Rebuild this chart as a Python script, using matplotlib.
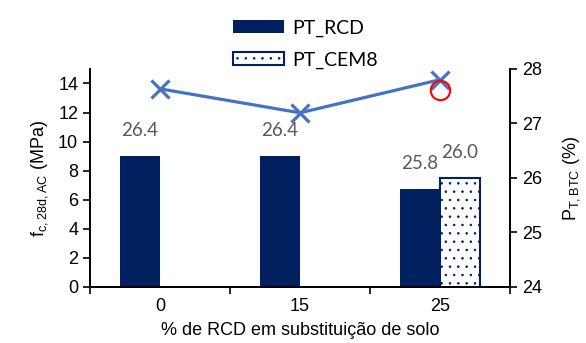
import numpy as np
import matplotlib.pyplot as plt

# data
categories = ['0', '15', '25']
fc_rcd = [13.63, 11.98, 14.26]        # compressive strength, MPa (left axis)
fc_cem8 = [np.nan, np.nan, 13.57]
pt_rcd = [26.4, 26.4, 25.8]           # P_T,BTC (%) bars (right axis)
pt_cem8 = [np.nan, np.nan, 26.0]

navy = '#002060'
line_blue = '#4472C4'

plt.rcParams['font.family'] = ['Liberation Sans', 'DejaVu Sans']
plt.rcParams['mathtext.fontset'] = 'custom'
plt.rcParams['mathtext.rm'] = 'Liberation Sans'
plt.rcParams['font.size'] = 13
plt.rcParams['hatch.linewidth'] = 0.6
plt.rcParams['hatch.color'] = navy

fig = plt.figure(figsize=(5.86, 3.43), dpi=100)
ax = fig.add_axes([0.1536, 0.164, 0.7167, 0.635])
ax2 = ax.twinx()

x = np.arange(len(categories))
w = 0.2857

b1 = ax2.bar(x - w / 2, pt_rcd, w, color=navy, label='PT_RCD', zorder=2)
b2 = ax2.bar(x + w / 2, pt_cem8, w, color='white', edgecolor=navy, linewidth=1.5,
             hatch='..', label='PT_CEM8', zorder=2)

for xi, v in zip(x - w / 2, pt_rcd):
    ax2.annotate(f'{v:.1f}', (xi, v), xytext=(0, 12), textcoords='offset points',
                 ha='center', va='bottom', color='#595959', fontsize=13.5, family='Lato')
for xi, v in zip(x + w / 2, pt_cem8):
    if not np.isnan(v):
        ax2.annotate(f'{v:.1f}', (xi, v), xytext=(0, 12), textcoords='offset points',
                     ha='center', va='bottom', color='#595959', fontsize=13.5, family='Lato')

# strength line drawn above the bars
ax.set_zorder(ax2.get_zorder() + 1)
ax.patch.set_visible(False)
ax.plot(x, fc_rcd, color=line_blue, lw=2.3, marker='x', ms=13, mew=2.3, zorder=3)
ax.plot(x, fc_cem8, ls='none', marker='o', ms=14, mfc='none', mec='red', mew=1.5, zorder=4)

ax.set_xlim(-0.5, 2.5)
ax.set_ylim(0, 15)
ax.set_yticks(np.arange(0, 15, 2))
ax2.set_ylim(24, 28)
ax2.set_yticks(np.arange(24, 29, 1))

ax.set_xticks(x)
ax.set_xticklabels(categories)
ax.set_xticks([-0.5, 0.5, 1.5, 2.5], minor=True)
ax.tick_params(axis='x', which='major', length=0, pad=8)
ax.tick_params(axis='x', which='minor', length=5, width=1.2, direction='out')
ax.tick_params(axis='y', length=5, width=1.2, direction='out')
ax2.tick_params(axis='y', length=5, width=1.2, direction='out')

for a in (ax, ax2):
    a.spines['top'].set_visible(False)
    for s in ('left', 'right', 'bottom'):
        a.spines[s].set_linewidth(1.3)

ax.set_xlabel('% de RCD em substituição de solo', labelpad=5)
ax.set_ylabel('f$_{\\mathregular{c,28d,AC}}$ (MPa)', labelpad=6)
ax2.set_ylabel('P$_{\\mathregular{T,BTC}}$ (%)', labelpad=14)

fig.legend(handles=[b1, b2], loc='upper left', bbox_to_anchor=(0.365, 1.0),
           frameon=False, prop={'family': 'Lato', 'size': 14},
           handlelength=2.6, handleheight=0.7, labelspacing=0.75,
           handletextpad=0.45, borderaxespad=0.6)

fig.savefig('out.png', dpi=100)
